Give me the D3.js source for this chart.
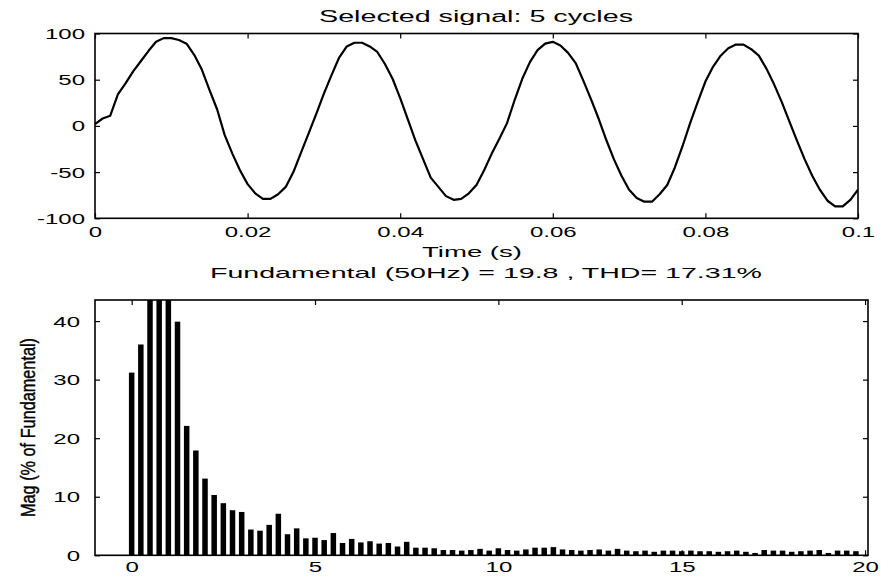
<!DOCTYPE html>
<html>
<head>
<meta charset="utf-8">
<script src="https://cdn.jsdelivr.net/npm/d3@7"></script>
<style>
    body { margin: 0; background: #fff; }
    text { fill: #000; }
</style>
</head>
<body>
<div id="chart"></div>
<script>
// samples of the selected signal
var timeS = [0, 0.001, 0.002, 0.003, 0.004, 0.005, 0.006, 0.007, 0.008, 0.009,
    0.010, 0.011, 0.012, 0.013, 0.014, 0.015, 0.016, 0.017, 0.018, 0.019,
    0.020, 0.021, 0.022, 0.023, 0.024, 0.025, 0.026, 0.027, 0.028, 0.029,
    0.030, 0.031, 0.032, 0.033, 0.034, 0.035, 0.036, 0.037, 0.038, 0.039,
    0.040, 0.041, 0.042, 0.043, 0.044, 0.045, 0.046, 0.047, 0.048, 0.049,
    0.050, 0.051, 0.052, 0.053, 0.054, 0.055, 0.056, 0.057, 0.058, 0.059,
    0.060, 0.061, 0.062, 0.063, 0.064, 0.065, 0.066, 0.067, 0.068, 0.069,
    0.070, 0.071, 0.072, 0.073, 0.074, 0.075, 0.076, 0.077, 0.078, 0.079,
    0.080, 0.081, 0.082, 0.083, 0.084, 0.085, 0.086, 0.087, 0.088, 0.089,
    0.090, 0.091, 0.092, 0.093, 0.094, 0.095, 0.096, 0.097, 0.098, 0.099, 0.100];
var signalVals = [2, 8, 11, 34, 46, 59, 70, 81, 91, 95,
    95, 93, 89, 77, 61, 39, 18, -10, -30, -48,
    -63, -73, -79, -79, -74, -66, -50, -29, -8, 13,
    35, 55, 74, 86, 90, 90, 86, 80, 67, 51,
    30, 7, -16, -36, -56, -66, -76, -80, -79, -73,
    -64, -48, -30, -14, 3, 28, 51, 69, 82, 89,
    91, 87, 79, 68, 49, 29, 8, -15, -36, -54,
    -69, -78, -82, -82, -74, -64, -45, -22, 3, 26,
    48, 64, 76, 84, 88, 88, 83, 76, 62, 45,
    26, 5, -16, -36, -54, -69, -81, -87, -87, -80, -69];

// spectrum (harmonic order, % of fundamental)
var harmonicOrder = [0, 0.25, 0.5, 0.75, 1, 1.25, 1.5, 1.75, 2, 2.25,
    2.5, 2.75, 3, 3.25, 3.5, 3.75, 4, 4.25, 4.5, 4.75,
    5, 5.25, 5.5, 5.75, 6, 6.25, 6.5, 6.75, 7, 7.25,
    7.5, 7.75, 8, 8.25, 8.5, 8.75, 9, 9.25, 9.5, 9.75,
    10, 10.25, 10.5, 10.75, 11, 11.25, 11.5, 11.75, 12, 12.25,
    12.5, 12.75, 13, 13.25, 13.5, 13.75, 14, 14.25, 14.5, 14.75,
    15, 15.25, 15.5, 15.75, 16, 16.25, 16.5, 16.75, 17, 17.25,
    17.5, 17.75, 18, 18.25, 18.5, 18.75, 19, 19.25, 19.5, 19.75];
var magPct = [31.2, 36.0, 62, 84, 100, 39.9, 22.1, 17.9, 13.1, 10.3,
    8.9, 7.7, 7.4, 4.4, 4.2, 5.2, 7.1, 3.6, 4.6, 2.9,
    3.0, 2.6, 3.8, 2.1, 2.8, 2.2, 2.4, 2.0, 2.1, 1.5,
    2.3, 1.3, 1.3, 1.2, 0.9, 0.9, 0.8, 0.9, 1.1, 0.8,
    1.2, 0.9, 0.8, 1.0, 1.3, 1.3, 1.4, 1.0, 0.9, 0.8,
    0.9, 1.0, 0.8, 1.1, 0.8, 0.7, 0.8, 0.6, 0.8, 0.8,
    0.7, 0.8, 0.7, 0.7, 0.6, 0.7, 0.8, 0.6, 0.4, 0.9,
    0.8, 0.8, 0.6, 0.7, 0.8, 0.9, 0.4, 0.8, 0.8, 0.7];

var topXTicks = [0, 0.02, 0.04, 0.06, 0.08, 0.1];
var topXLabels = ['0', '0.02', '0.04', '0.06', '0.08', '0.1'];
var topYTicks = [-100, -50, 0, 50, 100];
var botXTicks = [0, 5, 10, 15, 20];
var botYTicks = [0, 10, 20, 30, 40];

var width = 881, height = 580;
var tick = 5;
var wide = 1.6;   // horizontal stretch of the scanned lettering
var sans = '"Liberation Sans", Arial, sans-serif';
var narrow = '"Liberation Sans Narrow", "Arial Narrow", "Liberation Sans", sans-serif';

var svg = d3.select('#chart').append('svg')
    .attr('width', width)
    .attr('height', height);

svg.append('rect').attr('width', width).attr('height', height).attr('fill', '#fff');

var stretch = function(sel, k) {
    sel.each(function() {
        var w = this.getComputedTextLength();
        d3.select(this).attr('textLength', w * k).attr('lengthAdjust', 'spacingAndGlyphs');
    });
};

var label = function(x, y, txt, size, len, rot, family) {
    var t = svg.append('text')
        .attr('text-anchor', 'middle')
        .style('font-family', family || sans)
        .attr('font-size', size)
        .attr('textLength', len)
        .attr('lengthAdjust', 'spacingAndGlyphs')
        .text(txt);
    t.attr('transform', 'translate(' + x + ',' + y + ')' + (rot ? ' rotate(' + rot + ')' : ''));
    return t;
};

var plain = function(d) { return String(d); };   // keeps the ascii hyphen for negatives

// draws box + inward ticks on all four sides
var frame = function(x, y, xt, yt, xfmt, xLabelY, yLabelX) {
    var g = svg.append('g');
    var x0 = x.range()[0], x1 = x.range()[1];
    var y0 = y.range()[0], y1 = y.range()[1];

    var bottom = g.append('g').attr('transform', 'translate(0,' + y0 + ')')
        .call(d3.axisBottom(x).tickValues(xt).tickFormat(xfmt).tickSizeInner(-tick).tickSizeOuter(0));
    bottom.selectAll('text').attr('y', xLabelY).attr('dy', null);
    g.append('g').attr('transform', 'translate(0,' + y1 + ')')
        .call(d3.axisTop(x).tickValues(xt).tickFormat('').tickSizeInner(-tick).tickSizeOuter(0));

    var left = g.append('g').attr('transform', 'translate(' + x0 + ',0)')
        .call(d3.axisLeft(y).tickValues(yt).tickFormat(plain).tickSizeInner(-tick).tickSizeOuter(0).tickPadding(yLabelX));
    left.selectAll('text').attr('dy', '0.33em');
    g.append('g').attr('transform', 'translate(' + x1 + ',0)')
        .call(d3.axisRight(y).tickValues(yt).tickFormat('').tickSizeInner(-tick).tickSizeOuter(0));

    g.selectAll('.domain').remove();
    g.selectAll('.tick line').attr('stroke', '#000').attr('stroke-width', 1.2);
    g.selectAll('.tick text').attr('fill', '#000').style('font-family', sans).style('font-size', '15px');
    stretch(g.selectAll('.tick text'), wide);

    g.append('rect')
        .attr('x', x0).attr('y', y1)
        .attr('width', x1 - x0).attr('height', y0 - y1)
        .attr('fill', 'none').attr('stroke', '#000').attr('stroke-width', 1.6);
    return g;
};

// ---- top panel: time signal
var xT = d3.scaleLinear().domain([0, 0.1]).range([95, 858]);
var yT = d3.scaleLinear().domain([-100, 100]).range([218.3, 33.5]);

var defs = svg.append('defs');
defs.append('clipPath').attr('id', 'clip-top').append('rect')
    .attr('x', 95).attr('y', 33.5).attr('width', 858 - 95).attr('height', 218.3 - 33.5);
defs.append('clipPath').attr('id', 'clip-bot').append('rect')
    .attr('x', 95).attr('y', 300).attr('width', 868 - 95).attr('height', 555.3 - 300);

var line = d3.line()
    .x(function(d, i) { return xT(timeS[i]); })
    .y(function(d) { return yT(d); });

svg.append('path')
    .datum(signalVals)
    .attr('clip-path', 'url(#clip-top)')
    .attr('d', line)
    .attr('fill', 'none')
    .attr('stroke', '#000')
    .attr('stroke-width', 2.2)
    .attr('stroke-linejoin', 'round');

frame(xT, yT, topXTicks, topYTicks, function(d, i) { return topXLabels[i]; }, 19, 10);

label(476, 21.5, 'Selected signal: 5 cycles', 16, 314);
label(472, 256.5, 'Time (s)', 15, 100);

// ---- bottom panel: spectrum
var xB = d3.scaleLinear().domain([-1, 20.08]).range([95, 868]);
var yB = d3.scaleLinear().domain([0, 43.6]).range([555.3, 300]);
var barW = 0.15;

svg.append('g').attr('clip-path', 'url(#clip-bot)')
    .selectAll('rect').data(magPct)
    .enter().append('rect')
    .attr('x', function(d, i) { return xB(harmonicOrder[i] - barW / 2); })
    .attr('width', xB(barW) - xB(0))
    .attr('y', function(d) { return yB(d); })
    .attr('height', function(d) { return yB(0) - yB(d); })
    .attr('fill', '#000');

frame(xB, yB, botXTicks, botYTicks, plain, 16.5, 15);

label(486, 278, 'Fundamental (50Hz) = 19.8 , THD= 17.31%', 15, 552);
label(35, 427.5, 'Mag (% of Fundamental)', 20, 179, -90, narrow)
    .attr('stroke', '#000').attr('stroke-width', 0.4);
</script>
</body>
</html>
